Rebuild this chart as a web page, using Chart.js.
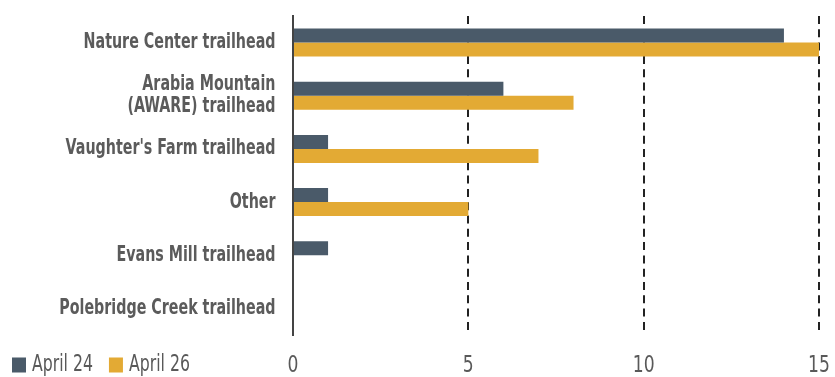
<!DOCTYPE html>
<html>
<head>
<meta charset="utf-8">
<script src="https://cdn.jsdelivr.net/npm/chart.js@4"></script>
<style>
  html, body { margin: 0; padding: 0; background: #ffffff; }
  #wrap { width: 835px; height: 377px; position: relative; }
</style>
</head>
<body>
<div id="wrap"><canvas id="chart" width="835" height="377"></canvas></div>
<script>
// Trailhead counts for two survey days
const categories = [
  'Nature Center trailhead',
  ['Arabia Mountain', '(AWARE) trailhead'],
  "Vaughter's Farm trailhead",
  'Other',
  'Evans Mill trailhead',
  'Polebridge Creek trailhead'
];
const april24 = [14, 6, 1, 1, 1, 0];
const april26 = [15, 8, 7, 5, 0, 0];
const seriesLabels = ['April 24', 'April 26'];
const xTicks = [0, 5, 10, 15];

const FONT = "'DejaVu Sans Condensed', 'DejaVu Sans', sans-serif";
const TEXT = '#595959';

// Draws a string squeezed horizontally, so the condensed face reads narrower
function narrowText(ctx, text, x, y, squeeze, align) {
  ctx.save();
  ctx.translate(x, y);
  ctx.scale(squeeze, 1);
  ctx.textAlign = align;
  ctx.fillText(text, 0, 0);
  ctx.restore();
}

// Axis labels in a tall, narrow style, placed from the scales' own tick pixels
const narrowLabels = {
  id: 'narrowLabels',
  afterDraw(chart) {
    const ctx = chart.ctx;
    const xs = chart.scales.x, ys = chart.scales.y;
    ctx.save();
    ctx.textBaseline = 'middle';

    // category labels
    ctx.fillStyle = '#5b5b5b';
    ctx.font = "bold 21px " + FONT;
    const right = chart.chartArea.left - 17.5;
    ys.ticks.forEach((t, i) => {
      const yc = ys.getPixelForTick(i);
      const lines = [].concat(chart.data.labels[i]);
      const lh = 21.5;
      lines.forEach((ln, k) => {
        const yy = yc + (k - (lines.length - 1) / 2) * lh;
        narrowText(ctx, ln, right, yy, 0.755, 'right');
      });
    });

    // value axis labels
    ctx.fillStyle = TEXT;
    ctx.font = "23px " + FONT;
    xs.ticks.forEach((t, i) => {
      narrowText(ctx, String(t.value), xs.getPixelForTick(i), 366, 0.83, 'center');
    });

    // series legend in the lower-left corner
    ctx.font = "23px " + FONT;
    let x = 12;
    const y = 365;
    chart.data.datasets.forEach(ds => {
      ctx.fillStyle = ds.backgroundColor;
      ctx.fillRect(x, y - 7.5, 14, 15);
      x += 20;
      ctx.fillStyle = TEXT;
      narrowText(ctx, ds.label, x, y, 0.76, 'left');
      x += ctx.measureText(ds.label).width * 0.76 + 16;
    });
    ctx.restore();
  }
};

new Chart(document.getElementById('chart'), {
  type: 'bar',
  data: {
    labels: categories,
    datasets: [
      { label: seriesLabels[0], data: april24, backgroundColor: '#4a5a69',
        categoryPercentage: 0.526, barPercentage: 1.0 },
      { label: seriesLabels[1], data: april26, backgroundColor: '#e3aa34',
        categoryPercentage: 0.526, barPercentage: 1.0 }
    ]
  },
  options: {
    indexAxis: 'y',
    responsive: false,
    animation: false,
    layout: { padding: { top: 16, right: 16, left: 0, bottom: 0 } },
    plugins: {
      legend: { display: false },
      tooltip: { enabled: false }
    },
    scales: {
      x: {
        min: 0, max: 15,
        afterBuildTicks(scale) { scale.ticks = xTicks.map(v => ({ value: v })); },
        afterFit(scale) {
          scale.height = 42;
          scale.paddingLeft = 0; scale.paddingRight = 0;
        },
        ticks: { display: false },
        grid: {
          color: c => (c.tick && c.tick.value === 0) ? 'rgba(0,0,0,0)' : '#222222',
          lineWidth: 2,
          drawTicks: false
        },
        border: { display: false, dash: [8, 5.3] }
      },
      y: {
        afterFit(scale) {
          scale.width = 293;
          scale.paddingTop = 0; scale.paddingBottom = 0;
        },
        ticks: { display: false },
        grid: { display: false, drawTicks: false },
        border: { display: true, color: '#444444', width: 2 }
      }
    }
  },
  plugins: [narrowLabels]
});
</script>
</body>
</html>
